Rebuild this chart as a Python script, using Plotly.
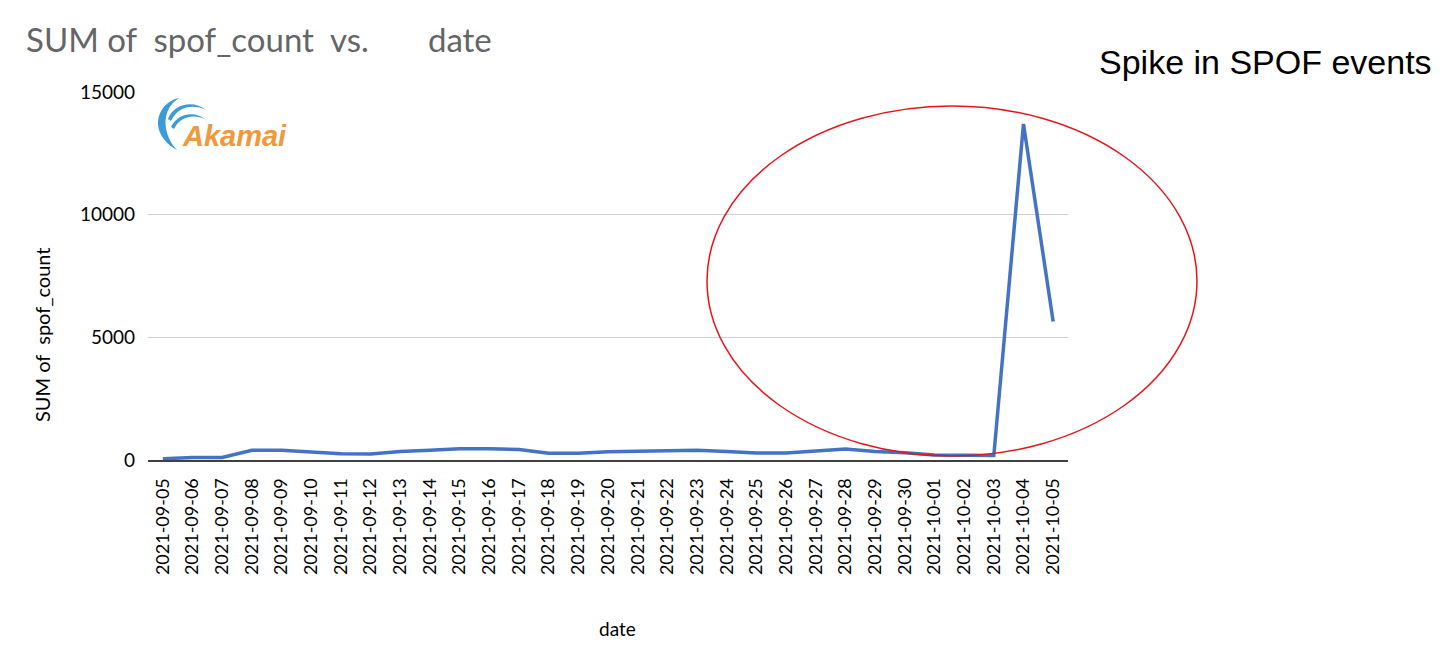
import plotly.graph_objects as go

dates = ["2021-09-05", "2021-09-06", "2021-09-07", "2021-09-08", "2021-09-09", "2021-09-10",
         "2021-09-11", "2021-09-12", "2021-09-13", "2021-09-14", "2021-09-15", "2021-09-16",
         "2021-09-17", "2021-09-18", "2021-09-19", "2021-09-20", "2021-09-21", "2021-09-22",
         "2021-09-23", "2021-09-24", "2021-09-25", "2021-09-26", "2021-09-27", "2021-09-28",
         "2021-09-29", "2021-09-30", "2021-10-01", "2021-10-02", "2021-10-03", "2021-10-04",
         "2021-10-05"]
spof_count = [50, 100, 100, 400, 400, 320, 250, 240, 350, 400, 460, 460, 430, 280, 280, 340,
              370, 400, 400, 350, 290, 290, 360, 450, 350, 300, 200, 200, 180, 13700, 5650]
y_ticks = [0, 5000, 10000, 15000]

FONT = "Lato"
NB = "\u00a0"

# page offset (body margin) and plot-area geometry in page pixels
OFF = 8
PL, PR, PT, PB = 148, 1068, 92, 460


def px(x):
    return (x - PL) / (PR - PL)


def py(y):
    return (PB - y) / (PB - PT)


def pt(x, y):
    return f"{px(x):.4f},{py(y):.4f}"


fig = go.Figure()
fig.add_trace(go.Scatter(x=dates, y=spof_count, mode="lines",
                         line=dict(color="#4472C4", width=3.5), showlegend=False,
                         hoverinfo="x+y"))

fig.update_layout(
    width=1440, height=655,
    margin=dict(l=PL - OFF, r=1440 - PR + OFF, t=PT - OFF, b=655 - PB + OFF),
    paper_bgcolor="white", plot_bgcolor="white",
    font=dict(family=FONT, color="#000000", size=18),
    xaxis=dict(type="category", range=[-0.5, len(dates) - 0.5], tickangle=-90, showgrid=False,
               showline=True, linecolor="#404040", linewidth=2,
               ticks="", tickfont=dict(size=18, family=FONT),
               ticklabelstandoff=9, automargin=False),
    yaxis=dict(range=[0, 15000], tickvals=y_ticks, ticktext=[str(v) for v in y_ticks],
               showgrid=True, gridcolor="#D0D0D0", gridwidth=1, zeroline=False,
               showline=False, ticks="", tickfont=dict(size=19, family=FONT),
               ticklabelstandoff=12, automargin=False),
)

# chart title
fig.add_annotation(text="SUM of" + NB * 2 + "spof_count" + NB * 2 + "vs." + NB * 7 + "date",
                   xref="paper", yref="paper", x=px(24), y=py(39), xanchor="left", yanchor="middle",
                   showarrow=False, font=dict(size=33, family=FONT, color="#656565"))

# axis titles
fig.add_annotation(text="SUM of" + NB * 2 + "spof_count", textangle=-90,
                   xref="paper", yref="paper", x=px(42), y=py(335), xanchor="center", yanchor="middle",
                   showarrow=False, font=dict(size=20, family=FONT, color="#000000"))
fig.add_annotation(text="date", xref="paper", yref="paper", x=px(617), y=py(628),
                   xanchor="center", yanchor="middle", showarrow=False,
                   font=dict(size=19, family=FONT, color="#000000"))

# side annotation
fig.add_annotation(text="Spike in SPOF events", xref="paper", yref="paper",
                   x=px(1097), y=py(62), xanchor="left", yanchor="middle", showarrow=False,
                   font=dict(size=34, family="Liberation Sans", color="#000000"))

# red ellipse highlighting the spike
fig.add_shape(type="circle", xref="paper", yref="paper",
              x0=px(707), x1=px(1197), y0=py(456), y1=py(106),
              line=dict(color="#E8141B", width=1.5), fillcolor="rgba(0,0,0,0)")

# Akamai logo approximation
BLUE = "#3A9BD9"
fig.add_shape(type="path", xref="paper", yref="paper",
              path=f"M {pt(179,98)} C {pt(158,102)} {pt(146,132)} {pt(177,150)} "
                   f"C {pt(163,135)} {pt(160,110)} {pt(179,98)} Z",
              fillcolor=BLUE, line=dict(width=0))
fig.add_shape(type="path", xref="paper", yref="paper",
              path=f"M {pt(168,119)} C {pt(174,103)} {pt(194,100)} {pt(206,110)} "
                   f"C {pt(194,104)} {pt(178,106)} {pt(171,121)} Z",
              fillcolor=BLUE, line=dict(width=0))
fig.add_shape(type="path", xref="paper", yref="paper",
              path=f"M {pt(171,127)} C {pt(178,113)} {pt(194,111)} {pt(205,119)} "
                   f"C {pt(194,114)} {pt(180,116)} {pt(174,129)} Z",
              fillcolor=BLUE, line=dict(width=0))
fig.add_annotation(text="<b><i>Akamai</i></b>", xref="paper", yref="paper",
                   x=px(180), y=py(136), xanchor="left", yanchor="middle", showarrow=False,
                   font=dict(size=29, family="Liberation Sans", color="#F0983A"))

fig.write_html("out.html")
